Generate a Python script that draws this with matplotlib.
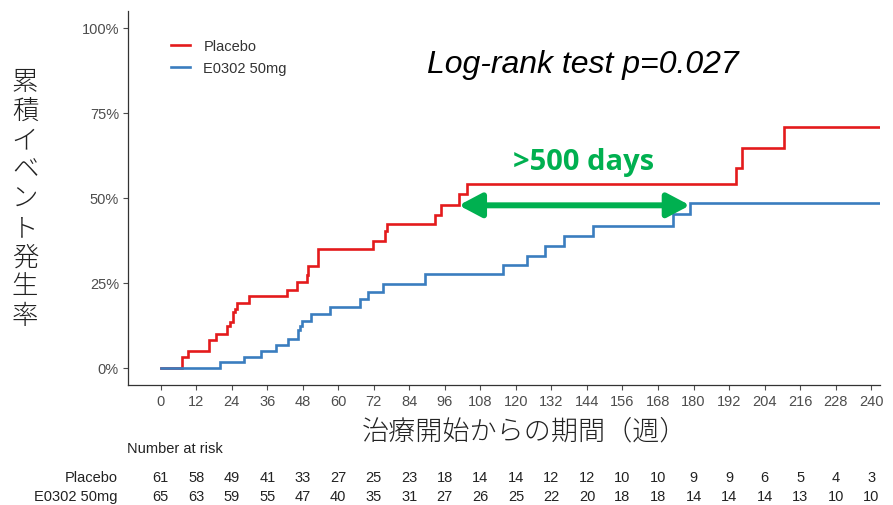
import matplotlib
matplotlib.use("Agg")
import matplotlib.pyplot as plt
import numpy as np

# ---------------- data ----------------
placebo_weeks = [0, 7.1, 9.2, 16.3, 18.7, 22.5, 23.4, 24.5, 25.1, 25.9, 29.9, 42.6, 46.2,
                 49.3, 49.8, 53.1, 71.6, 75.8, 76.3, 92.5, 94.6, 100.7, 103.6, 194.4,
                 196.3, 210.4, 242.5]
placebo_pct = [0, 3.1, 5.0, 8.3, 9.9, 12.4, 13.5, 16.3, 17.3, 19.0, 21.0, 22.9, 25.1,
               27.4, 30.0, 34.9, 37.4, 40.3, 42.3, 44.9, 48.0, 51.1, 54.0, 58.7,
               64.6, 70.8, 70.8]
drug_weeks = [0, 20.0, 28.2, 33.9, 38.9, 43.1, 46.5, 47.0, 47.6, 50.9, 57.2, 67.3, 70.1,
              75.0, 89.3, 115.6, 123.6, 129.8, 136.2, 145.9, 173.0, 178.8, 242.5]
drug_pct = [0, 1.7, 3.3, 5.0, 6.8, 8.5, 11.0, 12.4, 13.8, 15.9, 17.9, 20.2, 22.2,
            24.6, 27.6, 30.1, 33.0, 35.9, 38.9, 41.8, 45.2, 48.4, 48.4]

x_ticks = list(range(0, 241, 12))
y_ticks = [0, 25, 50, 75, 100]
y_tick_labels = ["0%", "25%", "50%", "75%", "100%"]
risk_placebo = [61, 58, 49, 41, 33, 27, 25, 23, 18, 14, 14, 12, 12, 10, 10, 9, 9, 6, 5, 4, 3]
risk_drug = [65, 63, 59, 55, 47, 40, 35, 31, 27, 26, 25, 22, 20, 18, 18, 14, 14, 14, 13, 10, 10]
series_names = ["Placebo", "E0302 50mg"]
title_text = "Log-rank test p=0.027"
gap_text = ">500 days"
ylabel_text = "累積イベント発生率"
xlabel_text = "治療開始からの期間（週）"
arrow_level = 47.8

RED = "#e41a1c"
BLUE = "#3a7dbf"
GREEN = "#00b050"
W, H = 893, 506

fig = plt.figure(figsize=(W / 100, H / 100), dpi=100)
L, R, B, T = 128, 880, 385.7, 12
ax = fig.add_axes([L / W, 1 - B / H, (R - L) / W, (B - T) / H])

ax.step(placebo_weeks, placebo_pct, where="post", color=RED, lw=1.9,
        label=series_names[0], solid_joinstyle="miter")
ax.step(drug_weeks, drug_pct, where="post", color=BLUE, lw=1.9,
        label=series_names[1], solid_joinstyle="miter")

ax.set_xlim(-11.05, 243)
ax.set_ylim(-5, 105)
ax.set_xticks(x_ticks)
ax.set_xticklabels([str(v) for v in x_ticks], fontsize=10.5, color="#4d4d4d",
                   family="Liberation Sans")
ax.set_yticks(y_ticks)
ax.set_yticklabels(y_tick_labels, fontsize=10.5, color="#4d4d4d", family="Liberation Sans")
ax.tick_params(axis="both", length=3.5, width=0.8, color="#4d4d4d", pad=3)
for s in ["top", "right"]:
    ax.spines[s].set_visible(False)
for s in ["left", "bottom"]:
    ax.spines[s].set_color("#333333")
    ax.spines[s].set_linewidth(0.9)

leg = ax.legend(loc="upper left", bbox_to_anchor=(0.04, 0.96), frameon=False,
                prop={"family": "Liberation Sans", "size": 10.5}, handlelength=1.3,
                handletextpad=0.9, labelspacing=0.55)
for t in leg.get_texts():
    t.set_color("#333333")

# title
fig.text(583 / W, 1 - 73 / H, title_text, ha="center", va="baseline",
         fontsize=23, style="italic", family="Liberation Sans", color="black")

# green arrow: from placebo crossing to drug crossing of arrow_level
pw = np.array(placebo_weeks); pp = np.array(placebo_pct)
dw = np.array(drug_weeks); dp = np.array(drug_pct)
x_left = pw[np.argmax(pp >= arrow_level + 2)]
x_right = dw[np.argmax(dp >= arrow_level)]
ax.annotate("", xy=(x_left, arrow_level), xytext=(x_right, arrow_level),
            arrowprops=dict(arrowstyle="<|-|>,head_length=0.85,head_width=0.45",
                            color=GREEN, lw=4.3, shrinkA=0, shrinkB=0,
                            mutation_scale=16))
ax.text((x_left + x_right) / 2 + 3, 60.8, gap_text, ha="center", va="center",
        fontsize=21, fontweight="bold", family=["Open Sans", "DejaVu Sans"], color=GREEN)

# y label (stacked characters)
for i, ch in enumerate(ylabel_text):
    fig.text(25 / W, 1 - (82 + i * 29.2) / H, ch, ha="center", va="center",
             fontsize=19, family=["Noto Sans CJK JP", "DejaVu Sans"], color="#222222",
             fontweight="light")

# x label
fig.text(525 / W, 1 - 431 / H, xlabel_text, ha="center", va="center", fontsize=19.5,
         family=["Noto Sans CJK JP", "DejaVu Sans"], color="#222222", fontweight="light")

# risk table
narrow = ["Liberation Sans Narrow", "Liberation Sans"]
fig.text(127 / W, 1 - 449 / H, "Number at risk", ha="left", va="center",
         fontsize=10.5, family=narrow, color="#222222")
for row_y, name, vals in [(478, series_names[0], risk_placebo),
                          (497, series_names[1], risk_drug)]:
    fig.text(118 / W, 1 - row_y / H, name, ha="right", va="center", fontsize=10.5,
             family=narrow, color="#222222")
    for xv, v in zip(x_ticks, vals):
        xp = ax.transData.transform((xv, 0))[0] / fig.bbox.width
        fig.text(xp, 1 - row_y / H, str(v), ha="center", va="center", fontsize=10.5,
                 family=narrow, color="#222222")

fig.savefig("out.png", dpi=100)
